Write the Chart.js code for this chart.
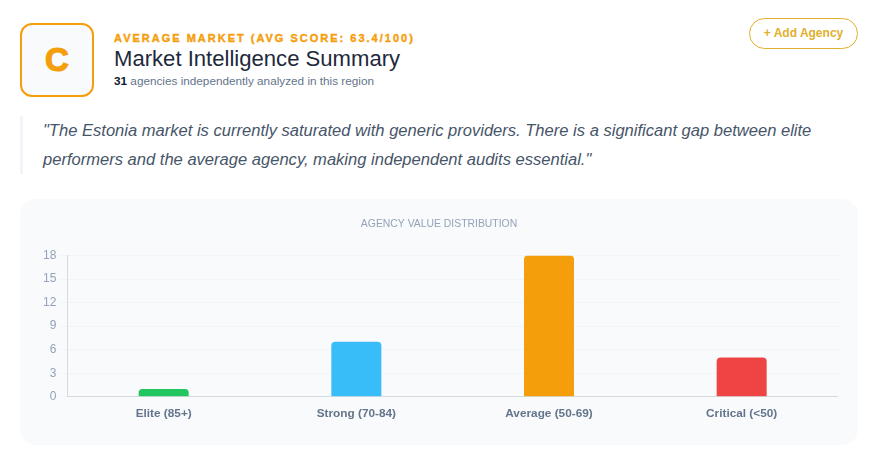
<!DOCTYPE html>
<html>
<head>
<meta charset="utf-8">
<title>Market Intelligence Summary</title>
<script src="https://cdn.jsdelivr.net/npm/chart.js@4"></script>
<style>
  html, body { margin: 0; padding: 0; background: #fff; }
  body { width: 880px; height: 462px; position: relative; overflow: hidden; font-family: "Liberation Sans", Arial, sans-serif; }
  .badge { position: absolute; left: 20px; top: 23px; width: 74px; height: 74px; box-sizing: border-box; border: 2px solid #f59e0b; border-radius: 12px; background: #f8fafc; color: #f59e0b; font-size: 33px; font-weight: 900; line-height: 70px; text-align: center; -webkit-text-stroke: 1.2px #f59e0b; }
  .eyebrow { position: absolute; left: 114px; top: 32px; font-size: 11px; font-weight: 900; letter-spacing: 2px; color: #f59e0b; white-space: nowrap; -webkit-text-stroke: 0.4px #f59e0b; }
  h1 { position: absolute; left: 114px; top: 45px; margin: 0; font-size: 22.1px; line-height: 28px; font-weight: 400; color: #1e293b; white-space: nowrap; }
  .sub { position: absolute; left: 114px; top: 74px; font-size: 11.75px; line-height: 14px; color: #64748b; white-space: nowrap; }
  .sub b { color: #0f172a; }
  .add { position: absolute; left: 749px; top: 18px; width: 109px; height: 31px; box-sizing: border-box; border: 1px solid #e0b02e; border-radius: 16px; color: #e0b02e; font-size: 12px; font-weight: 700; line-height: 29px; text-align: center; }
  .quote { position: absolute; left: 20px; top: 116px; width: 805px; height: 58px; box-sizing: border-box; border-left: 3px solid #f1f5f9; padding-left: 20px; font-size: 16.56px; font-style: italic; line-height: 29px; color: #475569; }
  .card { position: absolute; left: 20px; top: 199px; width: 838px; height: 246px; border-radius: 16px; background: #f8fafc; }
  .wrap { position: absolute; left: 20px; top: 15px; width: 798px; height: 209px; }
</style>
</head>
<body>
<div class="badge">C</div>
<div class="eyebrow">AVERAGE MARKET (AVG SCORE: 63.4/100)</div>
<h1>Market Intelligence Summary</h1>
<div class="sub"><b>31</b> agencies independently analyzed in this region</div>
<div class="add">+ Add Agency</div>
<div class="quote">"The Estonia market is currently saturated with generic providers. There is a significant gap between elite performers and the average agency, making independent audits essential."</div>
<div class="card"><div class="wrap"><canvas id="dist"></canvas></div></div>
<script>
const categories = ["Elite (85+)", "Strong (70-84)", "Average (50-69)", "Critical (<50)"];
const agencyCounts = [1, 7, 18, 5];
const barColors = ["#22c55e", "#38bdf8", "#f59e0b", "#ef4444"];
const chartTitle = "AGENCY VALUE DISTRIBUTION";

new Chart(document.getElementById("dist"), {
  type: "bar",
  data: {
    labels: categories,
    datasets: [{ data: agencyCounts, backgroundColor: barColors, borderRadius: 4, maxBarThickness: 50 }],
  },
  options: {
    responsive: true,
    maintainAspectRatio: false,
    animation: false,
    plugins: {
      legend: { display: false },
      title: {
        display: true,
        text: chartTitle,
        color: "#94a3b8",
        font: { family: "'Liberation Sans', Arial, sans-serif", size: 10.4, weight: "normal" },
        padding: { top: 4, bottom: 25 },
      },
    },
    scales: {
      x: {
        grid: { display: false },
        border: { color: "#d5dae2" },
        ticks: { padding: 2, color: "#64748b", font: { family: "'Liberation Sans', Arial, sans-serif", size: 11.8, weight: "bold" } },
      },
      y: {
        beginAtZero: true,
        max: 18,
        grid: { color: "#f1f5f9" },
        border: { color: "#d5dae2" },
        ticks: { stepSize: 3, color: "#94a3b8", font: { family: "'Liberation Sans', Arial, sans-serif", size: 12 } },
      },
    },
  },
});
</script>
</body>
</html>
